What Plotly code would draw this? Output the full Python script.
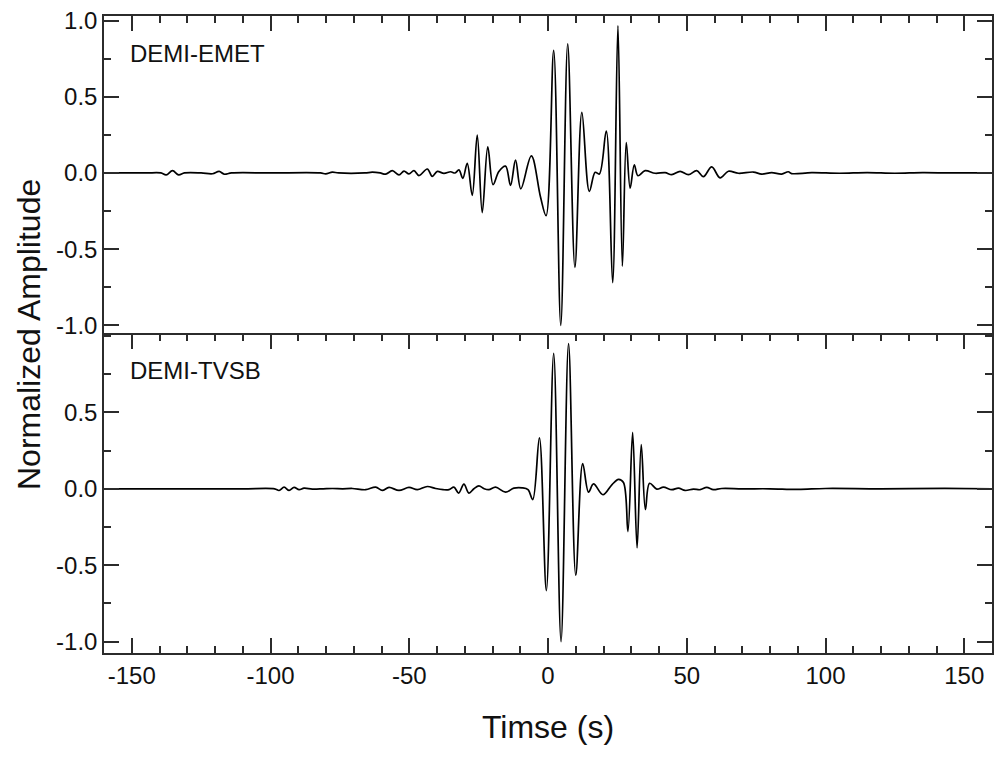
import plotly.graph_objects as go

# ---- data ----
t_emet = [-160, -145, -139.5, -137.6, -135.3, -133.1, -131, -125, -120.9, -118.5, -116.7, -114,
          -100, -82, -80.1, -77.7, -75.5, -66, -63.3, -60.5, -58.5, -56.1, -53.7, -51.9, -50.1,
          -48.3, -46.5, -43.5, -41.7, -39.9, -37.5, -35.1, -33.5, -32.1, -30.7, -29.1, -27.3,
          -25.5, -23.7, -21.7, -19.8, -17.7, -15.3, -13.5, -11.7, -9.8, -6.0, -2.7, -0.7, 2.05,
          4.6, 7.1, 9.7, 12.2, 14.9, 17.0, 18.5, 21.0, 23.3, 25.2, 26.8, 28.2, 29.6, 31.1, 32.4,
          35.0, 38.6, 42.2, 44.6, 47.6, 50.6, 53.6, 56.0, 59.0, 62.0, 65.0, 68.6, 74.0, 77.0,
          80.6, 84.2, 86.6, 87.8, 95, 105, 115, 125, 135, 145, 160]
a_emet = [0.0, 0.0, 0.0, -0.013, 0.015, -0.013, 0.0, 0.0, -0.005, 0.01, -0.008, 0.0,
          0.0, 0.0, -0.006, 0.005, 0.0, 0.0, 0.005, 0.0, -0.008, 0.015, -0.013, 0.012, -0.006,
          0.015, -0.017, 0.026, -0.022, 0.01, -0.003, 0.008, 0.0, 0.02, -0.035, 0.063, -0.147,
          0.249, -0.26, 0.171, -0.076, 0.01, 0.045, -0.082, 0.084, -0.104, 0.112, -0.158, -0.28, 0.805,
          -1.0, 0.848, -0.62, 0.398, -0.121, 0.004, -0.007, 0.275, -0.72, 0.967, -0.613, 0.199, -0.1, 0.054, -0.018,
          0.015, -0.002, 0.002, -0.011, 0.011, -0.011, 0.015, -0.024, 0.04, -0.032, 0.011, -0.002, 0.006, -0.007,
          0.002, -0.007, 0.008, -0.004, 0.002, -0.002, 0.002, -0.002, 0.002, 0.0, 0.0]

t_tvsb = [-160, -130, -110, -98.5, -96.9, -95.1, -93.3, -91.5, -89.7, -87.9, -84.9, -81, -77.7,
          -74, -70.5, -65.7, -62.1, -59.7, -57.3, -53.7, -50.1, -47.1, -43.5, -40.5, -37.8, -35.7,
          -33.9, -32.2, -30.3, -28.5, -26.7, -24.9, -23.0, -21.3, -18.9, -15.3, -12.3, -9.3, -7.2, -5.5,
          -3.1, -0.6, 2.05, 4.7, 7.4, 10.0, 12.5, 14.6, 16.4, 19.8, 23.0, 25.4, 27.2, 28.8, 30.5,
          32.1, 33.6, 35.1, 36.6, 39.2, 41.6, 44.6, 47.0, 49.4, 52.4, 54.8, 57.2, 59.6, 62.6, 70,
          80, 90.2, 100, 120, 143, 160]
a_tvsb = [0.0, 0.0, 0.0, 0.0, -0.011, 0.011, -0.011, 0.009, -0.006, 0.004, -0.002, 0.0, 0.002,
          0.0, 0.002, -0.006, 0.011, -0.011, 0.009, -0.011, 0.009, -0.006, 0.015, 0.002, -0.006, -0.006,
          0.011, -0.028, 0.03, -0.028, 0.0, 0.019, 0.0, -0.006, 0.011, -0.022, 0.004, 0.006, -0.006, -0.071,
          0.333, -0.667, 0.886, -1.0, 0.95, -0.566, 0.165, -0.022, 0.032, -0.039, 0.026, 0.062, 0.041, -0.28, 0.37,
          -0.387, 0.29, -0.136, 0.036, -0.002, 0.011, -0.006, 0.004, -0.011, -0.002, -0.006, 0.009, -0.006, 0.002, 0.0,
          0.0, -0.004, 0.002, 0.0, 0.003, 0.0]

panel_labels = ["DEMI-EMET", "DEMI-TVSB"]
x_ticks = [-150, -100, -50, 0, 50, 100, 150]
x_ticktext = ["-150", "-100", "-50", "0", "50", "100", "150"]
y_ticks_top = [-1.0, -0.5, 0.0, 0.5, 1.0]
y_ticktext_top = ["-1.0", "-0.5", "0.0", "0.5", "1.0"]
y_ticks_bottom = [-1.0, -0.5, 0.0, 0.5]
y_ticktext_bottom = ["-1.0", "-0.5", "0.0", "0.5"]

FONT = "Liberation Sans, Arial, sans-serif"
AX = "#2b2b2b"
TXT = "#111111"

fig = go.Figure()
fig.add_trace(go.Scatter(x=t_emet, y=a_emet, mode="lines", xaxis="x", yaxis="y",
                         line=dict(color="#000000", width=1.7, shape="spline", smoothing=1.0),
                         showlegend=False, hoverinfo="skip"))
fig.add_trace(go.Scatter(x=t_tvsb, y=a_tvsb, mode="lines", xaxis="x2", yaxis="y2",
                         line=dict(color="#000000", width=1.7, shape="spline", smoothing=1.0),
                         showlegend=False, hoverinfo="skip"))

common_x = dict(range=[-160, 160], showgrid=False, zeroline=False, showline=True,
                linecolor=AX, linewidth=1.5, ticks="inside", ticklen=15, tickwidth=1.5,
                tickcolor=AX, tickvals=x_ticks, ticktext=x_ticktext,
                minor=dict(dtick=10, tick0=0, ticks="inside", ticklen=7, tickwidth=1.5, tickcolor=AX))
common_y = dict(showgrid=False, zeroline=False, showline=True, linecolor=AX, linewidth=1.5,
                ticks="inside", ticklen=15, tickwidth=1.5, tickcolor=AX, mirror="ticks",
                tickfont=dict(family=FONT, size=24, color=TXT),
                minor=dict(dtick=0.25, tick0=0, ticks="inside", ticklen=7, tickwidth=1.5, tickcolor=AX))

fig.update_layout(
    width=1001, height=758,
    margin=dict(l=104, r=7, t=9, b=105),
    paper_bgcolor="white", plot_bgcolor="white",
    xaxis=dict(**common_x, anchor="y", side="top", mirror=False, showticklabels=False),
    yaxis=dict(**common_y, domain=[0.5, 1.0], range=[-1.06, 1.03], tickvals=y_ticks_top,
               ticktext=y_ticktext_top, anchor="x"),
    xaxis2=dict(**common_x, anchor="y2", side="bottom", mirror="ticks", matches="x",
                tickfont=dict(family=FONT, size=24, color=TXT),
                title=dict(text="Timse (s)", font=dict(family=FONT, size=32, color=TXT), standoff=28)),
    yaxis2=dict(**common_y, domain=[0.0, 0.5], range=[-1.075, 1.01], tickvals=y_ticks_bottom,
                ticktext=y_ticktext_bottom, anchor="x2"),
    annotations=[
        dict(text=panel_labels[0], xref="paper", yref="paper", x=0.027, y=0.941, xanchor="left",
             yanchor="middle", showarrow=False, font=dict(family=FONT, size=24, color=TXT)),
        dict(text=panel_labels[1], xref="paper", yref="paper", x=0.027, y=0.444, xanchor="left",
             yanchor="middle", showarrow=False, font=dict(family=FONT, size=24, color=TXT)),
        dict(text="Normalized Amplitude", xref="paper", yref="paper", x=-0.085, y=0.5,
             xanchor="center", yanchor="middle", textangle=-90, showarrow=False,
             font=dict(family=FONT, size=32, color=TXT)),
    ],
)

fig.write_html("out.html")
